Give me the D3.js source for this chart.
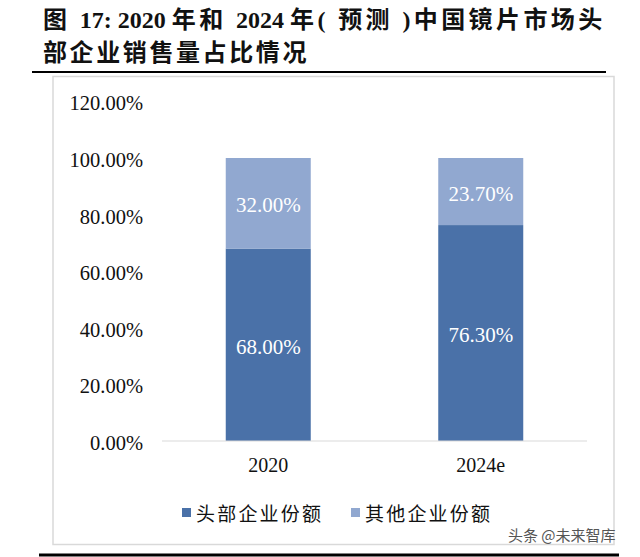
<!DOCTYPE html>
<html><head><meta charset="utf-8">
<script src="https://cdn.jsdelivr.net/npm/d3@7"></script>
<style>body{margin:0;background:#fff}svg{display:block}</style>
</head><body>
<script>
const categories = ["2020", "2024e"];
const seriesNames = ["头部企业份额", "其他企业份额"];
const headShare = [68.00, 76.30];
const otherShare = [32.00, 23.70];
const yTicks = [0, 20, 40, 60, 80, 100, 120];
const colors = ["#4a71a8", "#91a8d0"];
const titleLine1 = [["图 ", 1], ["17: 2020 ", 0], ["年和 ", 1], ["2024 ", 0], ["年( 预测 )中国镜片市场头", 1]];
const titleLine2 = "部企业销售量占比情况";

const W = 640, H = 557;
const svg = d3.select("body").append("svg").attr("width", W).attr("height", H);
const serif = "'Liberation Serif','Times New Roman',serif";
const cjk = "'Liberation Serif','Noto Sans CJK SC',serif";

// title
const title = svg.append("g").attr("font-family", cjk).attr("font-weight", "bold").attr("font-size", 24).attr("fill", "#111");
const t1 = title.append("text").attr("x", 43).attr("y", 28);
titleLine1.forEach(([s, sp]) => t1.append("tspan").attr("letter-spacing", sp ? 3.4 : 0).text(s));
title.append("text").attr("x", 43).attr("y", 61).attr("letter-spacing", 2.6).text(titleLine2);
svg.append("line").attr("x1", 32).attr("x2", 606).attr("y1", 72).attr("y2", 72).attr("stroke", "#000").attr("stroke-width", 2);
// frame
svg.append("rect").attr("x", 53).attr("y", 76.5).attr("width", 561).attr("height", 468).attr("fill", "none").attr("stroke", "#d9d9d9").attr("stroke-width", 1.5);
svg.append("line").attr("x1", 39).attr("x2", 619).attr("y1", 555).attr("y2", 555).attr("stroke", "#000").attr("stroke-width", 3);

const x = d3.scaleBand().domain(categories).range([162, 587]).paddingInner(0.6).paddingOuter(0.3);
const y = d3.scaleLinear().domain([0, 120]).range([441, 101.4]);

// y axis labels
const yAxis = d3.axisLeft(y).tickValues(yTicks).tickSize(0).tickPadding(0).tickFormat(d => d.toFixed(2) + "%");
const ya = svg.append("g").attr("transform", "translate(143,2)").call(yAxis);
ya.select(".domain").remove();
ya.selectAll("text").attr("font-family", serif).attr("font-size", 20.5).attr("fill", "#111");

const stacked = categories.map((c, i) => ({ c, a: headShare[i], b: otherShare[i] }));
const g = svg.append("g");
g.selectAll(".a").data(stacked).join("rect").attr("x", d => x(d.c)).attr("width", x.bandwidth())
  .attr("y", d => y(d.a)).attr("height", d => y(0) - y(d.a)).attr("fill", colors[0]);
g.selectAll(".b").data(stacked).join("rect").attr("x", d => x(d.c)).attr("width", x.bandwidth())
  .attr("y", d => y(d.a + d.b)).attr("height", d => y(d.a) - y(d.a + d.b)).attr("fill", colors[1]);

// baseline
svg.append("line").attr("x1", 162).attr("x2", 587).attr("y1", y(0)).attr("y2", y(0)).attr("stroke", "#d9d9d9").attr("stroke-width", 1);

// value labels
const lab = svg.append("g").attr("font-family", serif).attr("font-size", 21).attr("fill", "#fff").attr("text-anchor", "middle");
stacked.forEach(d => {
  lab.append("text").attr("x", x(d.c) + x.bandwidth() / 2).attr("y", (y(0) + y(d.a)) / 2 + 9).text(d.a.toFixed(2) + "%");
  lab.append("text").attr("x", x(d.c) + x.bandwidth() / 2).attr("y", (y(d.a) + y(d.a + d.b)) / 2 + 9).text(d.b.toFixed(2) + "%");
});

// x axis labels
const xAxis = d3.axisBottom(x).tickSize(0).tickPadding(0);
const xa = svg.append("g").attr("transform", "translate(0,458)").call(xAxis);
xa.select(".domain").remove();
xa.selectAll("text").attr("font-family", serif).attr("font-size", 20).attr("fill", "#111");

// legend
const legX = [182, 351];
const leg = svg.append("g");
seriesNames.forEach((n, i) => {
  leg.append("rect").attr("x", legX[i]).attr("y", 508).attr("width", 9).attr("height", 9).attr("fill", colors[i]);
  leg.append("text").attr("x", legX[i] + 14).attr("y", 521).attr("font-family", "'Noto Sans CJK SC',sans-serif")
    .attr("font-size", 19).attr("fill", "#111").attr("letter-spacing", 2.2).text(n);
});

// watermark
svg.append("text").attr("x", 508).attr("y", 541).attr("font-family", "'Noto Sans CJK SC',sans-serif")
  .attr("font-size", 15).attr("fill", "#555").text("头条 @未来智库");
</script>
</body></html>
